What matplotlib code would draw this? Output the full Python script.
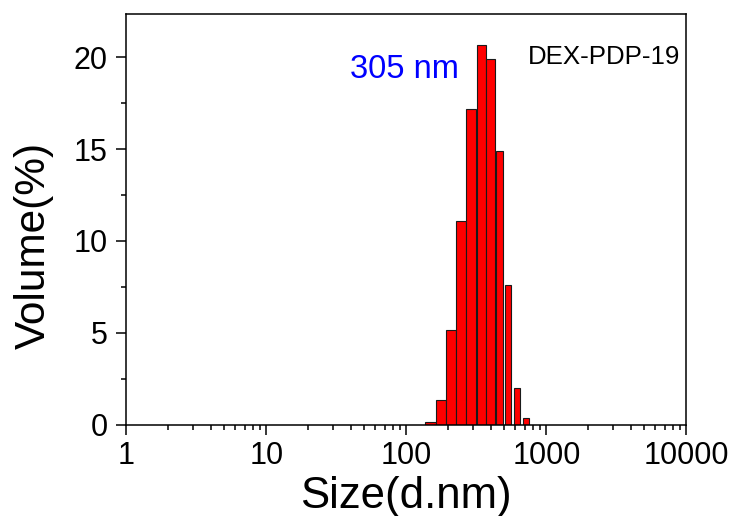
import numpy as np
import matplotlib.pyplot as plt
from matplotlib.ticker import LogLocator, MultipleLocator, FixedLocator

# size distribution by volume
sizes = [148.4, 176.4, 208.6, 246.6, 291.2, 343.4, 399.3, 461.6, 532.6, 619.7, 716.2]
volume = [0.12, 1.36, 5.12, 11.1, 17.19, 20.69, 19.89, 14.89, 7.61, 2.01, 0.33]
peak_label = "305 nm"
sample_name = "DEX-PDP-19"

plt.rcParams['font.family'] = ['Liberation Sans', 'DejaVu Sans']


def bar_edges(centers):
    # bars sit on a log axis, so widths are worked out in log10 units
    lc = np.log10(centers)
    gaps = np.diff(lc)
    spacing = np.concatenate([[gaps[0]], (gaps[:-1] + gaps[1:]) / 2, [gaps[-1]]])
    frac = np.clip(1 - 1.5 * (lc - 2.55), 0.6, 1.0)
    half = spacing * frac / 2
    return 10 ** (lc - half), 10 ** (lc + half)


def main():
    fig = plt.figure(figsize=(7.35, 5.16), dpi=100)
    ax = fig.add_axes([0.1718, 0.1773, 0.7620, 0.7950])

    left, right = bar_edges(np.array(sizes))
    ax.bar(left, volume, width=right - left, align='edge',
           color='#ff0000', edgecolor='#1a1a1a', linewidth=0.8)

    ax.set_xscale('log')
    ax.set_xlim(1, 10000)
    ax.set_ylim(0, 22.34)

    ax.xaxis.set_major_locator(FixedLocator([1, 10, 100, 1000, 10000]))
    ax.xaxis.set_minor_locator(LogLocator(base=10, subs=np.arange(2, 10)))
    ax.set_xticklabels(['1', '10', '100', '1000', '10000'])
    ax.yaxis.set_major_locator(MultipleLocator(5))
    ax.yaxis.set_minor_locator(MultipleLocator(2.5))

    ax.tick_params(which='both', direction='out', width=1.1, labelsize=22,
                   top=False, right=False)
    ax.tick_params(which='major', length=7.2)
    ax.tick_params(which='minor', length=3.6)
    ax.tick_params(axis='x', pad=5)
    ax.tick_params(axis='y', pad=6)
    for sp in ax.spines.values():
        sp.set_linewidth(1.1)

    ax.set_xlabel('Size(d.nm)', fontsize=31.5, labelpad=3)
    ax.set_ylabel('Volume(%)', fontsize=30.5)
    ax.yaxis.set_label_coords(-0.129, 0.4376)

    ax.text(0.3995, 0.865, peak_label, transform=ax.transAxes, color='#0000ff',
            fontsize=23.5, ha='left', va='center')
    ax.text(0.717, 0.895, sample_name, transform=ax.transAxes, color='black',
            fontsize=18.6, ha='left', va='center')

    fig.savefig('out.png', dpi=100)


if __name__ == "__main__":
    main()
